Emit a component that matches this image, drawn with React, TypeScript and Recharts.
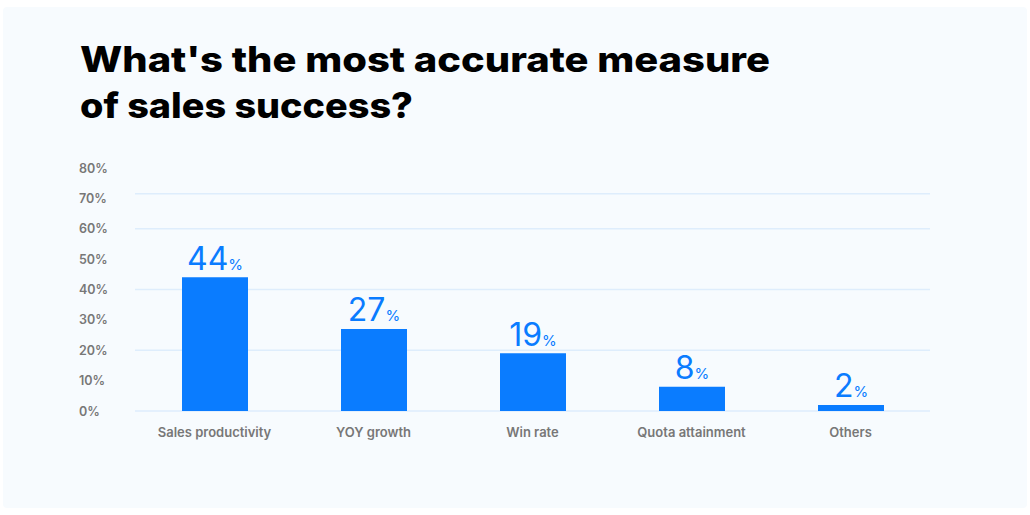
import React from 'react';
import { BarChart, Bar, XAxis, YAxis, CartesianGrid, LabelList } from 'recharts';

const categories = ['Sales productivity', 'YOY growth', 'Win rate', 'Quota attainment', 'Others'];
const values = [44, 27, 19, 8, 2];
const yTicks = [0, 10, 20, 30, 40, 50, 60, 70, 80];
const gridValues = [0, 20, 40, 60, 71.5];
const titleLines = ["What's the most accurate measure", 'of sales success?'];

const data = categories.map((name, i) => ({ name, value: values[i] }));

const BLUE = '#0a7cff';
const GREY = '#777777';

const YTick = (props: any) => {
  const { y, payload } = props;
  return (
    <text x={79} y={y + 4.5} textAnchor="start" fill={GREY} fontFamily="Inter, sans-serif" fontSize={12.5} fontWeight={600}>
      {payload.value}%
    </text>
  );
};

const XTick = (props: any) => {
  const { x, y, payload } = props;
  return (
    <text x={x} y={y + 25.5} textAnchor="middle" fill={GREY} fontFamily="Inter, sans-serif" fontSize={13} fontWeight={600}>
      {payload.value}
    </text>
  );
};

const ValueLabel = (props: any) => {
  const { x, y, width, value } = props;
  return (
    <text x={x + width / 2} y={y - 7.5} textAnchor="middle" fill={BLUE} fontFamily="Inter, sans-serif">
      <tspan fontSize={32} fontWeight={400}>{value}</tspan>
      <tspan fontSize={15} fontWeight={400}>%</tspan>
    </text>
  );
};

export default function App() {
  return (
    <div style={{ position: 'absolute', left: 0, top: 0, width: 1030, height: 515, background: '#ffffff' }}>
      <div style={{ position: 'absolute', left: 3, top: 7, width: 1024, height: 501, background: '#f7fbfe', borderRadius: 4 }} />
      <svg width={1030} height={140} style={{ position: 'absolute', left: 0, top: 0 }}>
        <text x={80} y={72} textLength={690} lengthAdjust="spacingAndGlyphs" fill="#000" fontFamily="Inter, sans-serif" fontSize={35} fontWeight={800}>
          {titleLines[0]}
        </text>
        <text x={80} y={118} textLength={333} lengthAdjust="spacingAndGlyphs" fill="#000" fontFamily="Inter, sans-serif" fontSize={35} fontWeight={800}>
          {titleLines[1]}
        </text>
      </svg>
      <div style={{ position: 'absolute', left: 0, top: 0 }}>
        <BarChart width={1030} height={515} data={data} margin={{ top: 168, right: 100, bottom: 74, left: 0 }}>
          <CartesianGrid vertical={false} horizontalValues={gridValues} stroke="#deedfc" strokeWidth={1.5} />
          <XAxis dataKey="name" height={30} axisLine={false} tickLine={false} tickSize={0} tickMargin={0} tick={<XTick />} interval={0} />
          <YAxis width={135} domain={[0, 80]} ticks={yTicks} axisLine={false} tickLine={false} tick={<YTick />} interval={0} />
          <Bar dataKey="value" fill={BLUE} barSize={66} isAnimationActive={false}>
            <LabelList dataKey="value" content={<ValueLabel />} />
          </Bar>
        </BarChart>
      </div>
    </div>
  );
}
